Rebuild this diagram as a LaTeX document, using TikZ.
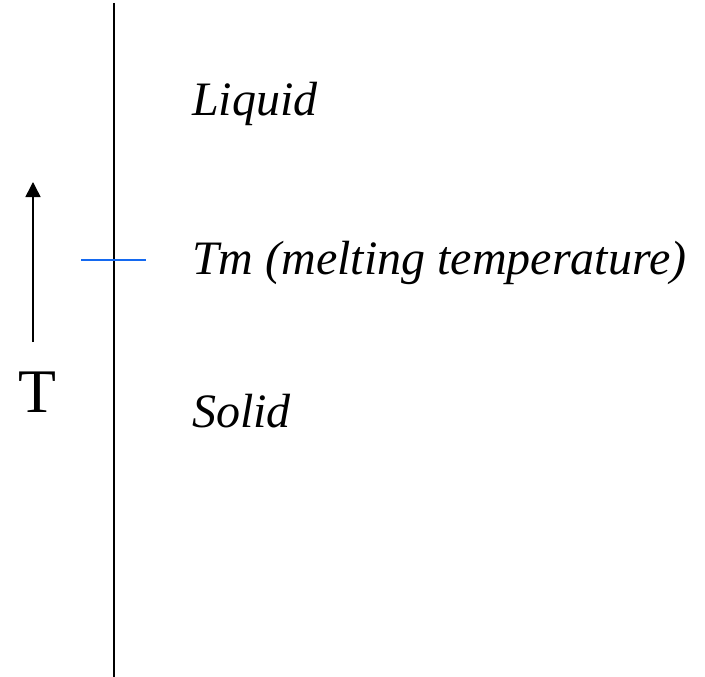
\documentclass[tikz,border=0pt]{standalone}
\usepackage{fontspec}
\setmainfont{Liberation Serif}
\usetikzlibrary{arrows.meta}
\definecolor{tmblue}{RGB}{20,105,240}
\tikzset{
  phase/.style={inner sep=0pt, anchor=base west, font=\fontsize{48}{50}\selectfont\itshape},
  axis/.style={line width=1.8pt, black},
}
\begin{document}
\begin{tikzpicture}[x=1pt,y=1pt]
\useasboundingbox (0,0) rectangle (705,-677);
\coordinate (vtop) at (114,-3);
\coordinate (vbot) at (114,-677);
\draw[axis] (vtop) -- (vbot);
\coordinate (tmL) at (81,-260);
\coordinate (tmR) at (146,-260);
\draw[tmblue, line width=1.8pt] (tmL) -- (tmR);
\coordinate (aS) at (33,-342);
\coordinate (aE) at (33,-182);
\draw[line width=1.5pt, -{Triangle[width=15pt,length=15pt]}] (aS) -- (aE);
\node[inner sep=0pt, anchor=base, font=\fontsize{62}{66}\selectfont] (tlab) at (37,-412) {T};
\node[phase] (liquid) at (192,-116) {Liquid};
\node[phase] (tm) at (192,-274) {Tm (melting temperature)};
\node[phase] (solid) at (192,-427) {Solid};
\end{tikzpicture}
\end{document}
